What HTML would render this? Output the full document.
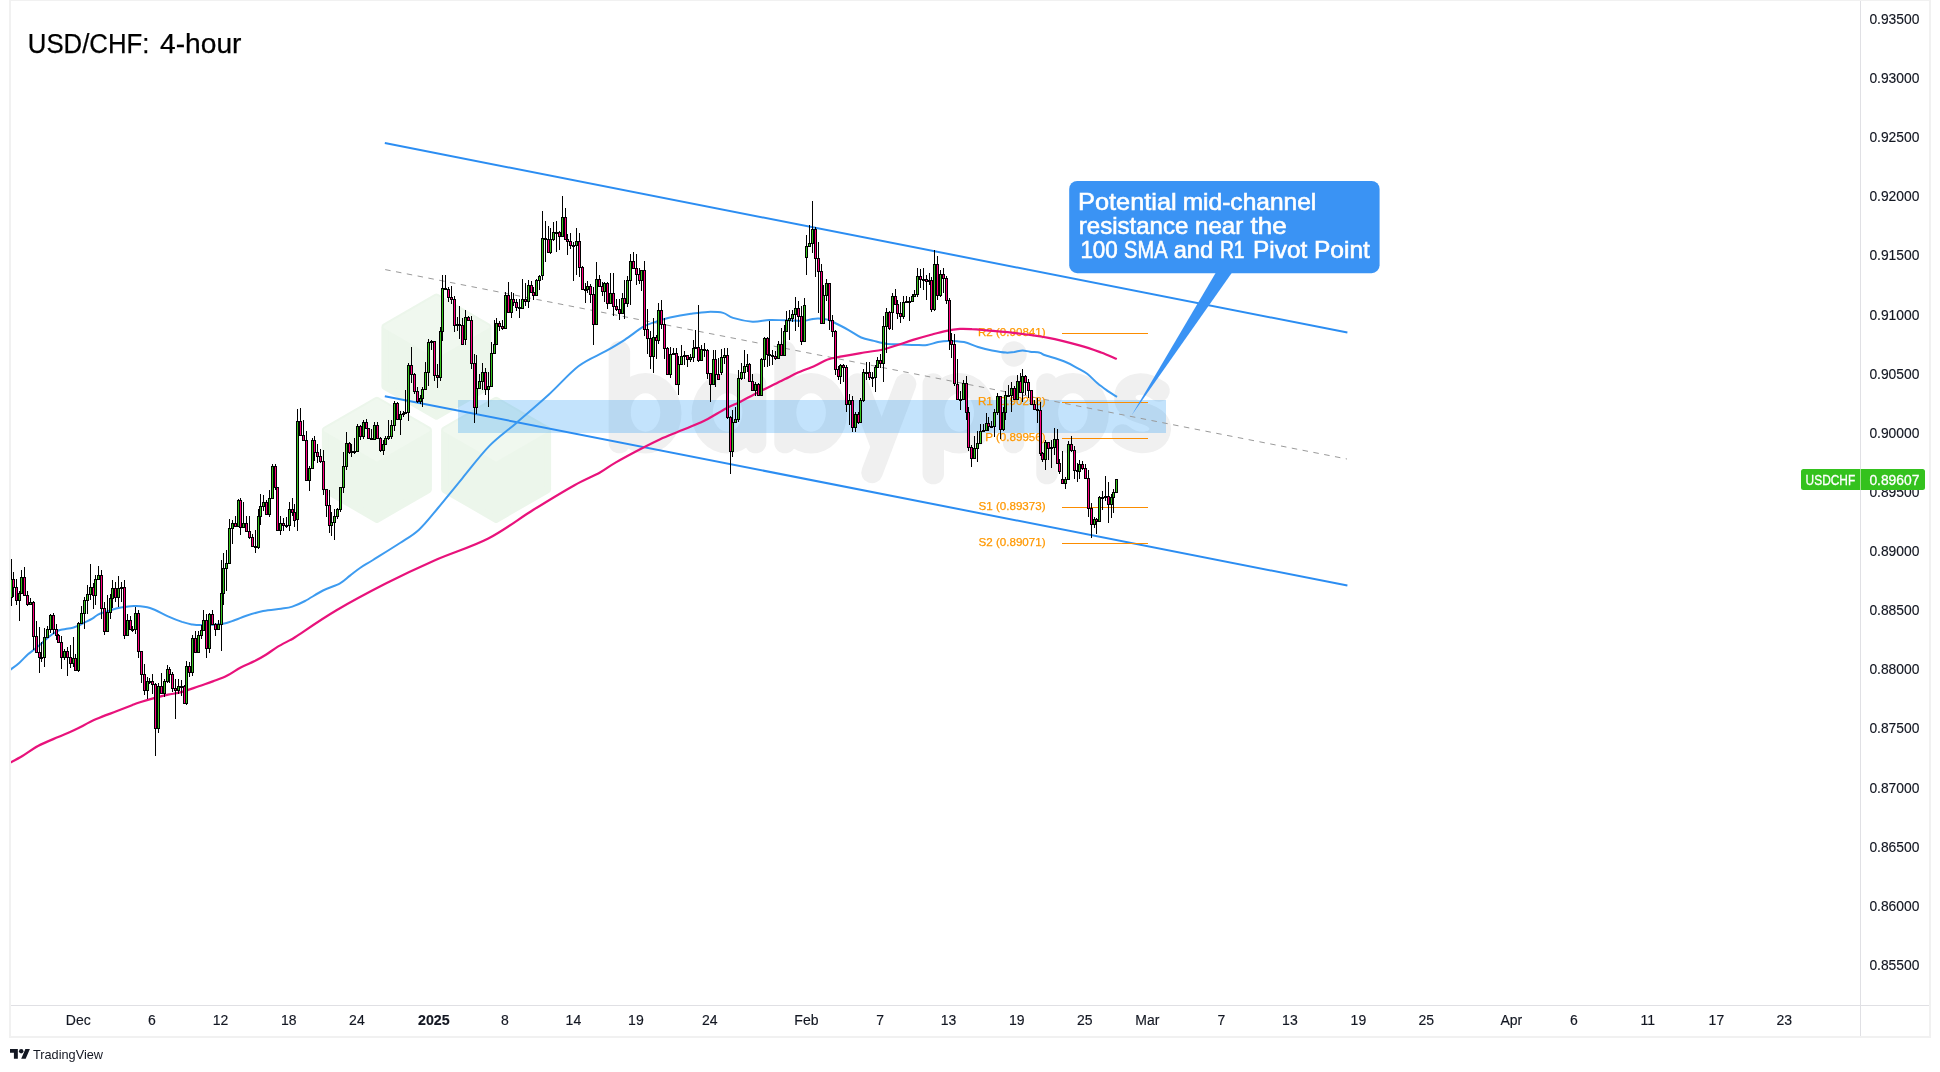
<!DOCTYPE html>
<html><head><meta charset="utf-8"><title>USD/CHF: 4-hour</title>
<style>html,body{margin:0;padding:0;background:#fff;}body{width:1940px;height:1072px;overflow:hidden;position:relative;}svg{position:absolute;left:0;top:0;display:block;will-change:transform;}text{font-family:"Liberation Sans",sans-serif;}</style></head><body>
<svg width="1940" height="1072" viewBox="0 0 1940 1072">
<rect x="0" y="0" width="1940" height="1072" fill="#ffffff"/>
<g shape-rendering="crispEdges">
<rect x="9" y="0" width="1922" height="1" fill="#f1f1f1"/>
<rect x="9" y="0" width="2" height="1038" fill="#f1f1f1"/>
<rect x="1929" y="0" width="2" height="1038" fill="#f1f1f1"/>
<rect x="9" y="1036" width="1922" height="2" fill="#f1f1f1"/>
<rect x="1860" y="1" width="1" height="1035" fill="#e0e0e4"/>
<rect x="11" y="1005" width="1918" height="1" fill="#e0e0e4"/>
</g>
<defs><clipPath id="cp"><rect x="11" y="1" width="1849" height="1004"/></clipPath></defs>
<g clip-path="url(#cp)">
<path d="M436.4,297.1 L487.9,326.9 L487.9,386.4 L436.4,416.1 L384.9,386.4 L384.9,326.9Z" fill="#ecf6eb" stroke="#ecf6eb" stroke-width="7" stroke-linejoin="round"/>
<path d="M436.4,297.1 L487.9,326.9 L436.4,356.6 L384.9,326.9Z" fill="#f0f8ef" stroke="#f0f8ef" stroke-width="3" stroke-linejoin="round"/>
<path d="M376.9,400.4 L428.4,430.1 L428.4,489.6 L376.9,519.4 L325.4,489.6 L325.4,430.1Z" fill="#ecf6eb" stroke="#ecf6eb" stroke-width="7" stroke-linejoin="round"/>
<path d="M376.9,400.4 L428.4,430.1 L376.9,459.9 L325.4,430.1Z" fill="#f0f8ef" stroke="#f0f8ef" stroke-width="3" stroke-linejoin="round"/>
<path d="M496.1,400.4 L547.6,430.1 L547.6,489.6 L496.1,519.4 L444.6,489.6 L444.6,430.1Z" fill="#ecf6eb" stroke="#ecf6eb" stroke-width="7" stroke-linejoin="round"/>
<path d="M496.1,400.4 L547.6,430.1 L496.1,459.9 L444.6,430.1Z" fill="#f0f8ef" stroke="#f0f8ef" stroke-width="3" stroke-linejoin="round"/>
<path fill="#f0f0f0" fill-rule="evenodd" d="M609.5,413.3a36,40.3 0 1,0 72,0a36,40.3 0 1,0 -72,0ZM630.7,412.5a14.8,19.3 0 1,0 29.6,0a14.8,19.3 0 1,0 -29.6,0Z"/><path fill="#f0f0f0" fill-rule="evenodd" d="M691.6,413.3a36,40.3 0 1,0 72,0a36,40.3 0 1,0 -72,0ZM712.8000000000001,412.5a14.8,19.3 0 1,0 29.6,0a14.8,19.3 0 1,0 -29.6,0Z"/><path fill="#f0f0f0" fill-rule="evenodd" d="M775.1,413.3a36,40.3 0 1,0 72,0a36,40.3 0 1,0 -72,0ZM796.3000000000001,412.5a14.8,19.3 0 1,0 29.6,0a14.8,19.3 0 1,0 -29.6,0Z"/><path fill="#f0f0f0" fill-rule="evenodd" d="M923.2,413.3a36,40.3 0 1,0 72,0a36,40.3 0 1,0 -72,0ZM944.4000000000001,412.5a14.8,19.3 0 1,0 29.6,0a14.8,19.3 0 1,0 -29.6,0Z"/><path fill="#f0f0f0" fill-rule="evenodd" d="M1036.9,413.3a36,40.3 0 1,0 72,0a36,40.3 0 1,0 -72,0ZM1058.1000000000001,412.5a14.8,19.3 0 1,0 29.6,0a14.8,19.3 0 1,0 -29.6,0Z"/>
<g fill="none" stroke="#f0f0f0" stroke-width="21.5" stroke-linecap="round" stroke-linejoin="round">
<path d="M619.4,351.8V442.6"/>
<path d="M755.6,384V442.6"/>
<path d="M785,351.8V442.6"/>
<path d="M857.4,384L881.5,446.4"/><path d="M905.6,384L872,472.5"/>
<path d="M933.3,384V473.6"/>
<path d="M1013.6,386V442.6"/>
<path d="M1047,384V473.6"/>
<path d="M1159.1,391Q1149.3,383.9 1140.8,383.9Q1124.9,385 1124.9,398Q1124.9,408 1142,413Q1160.3,418 1160.3,429Q1159.1,442 1142,442.6Q1131,442 1122.5,435"/>
</g>
<circle cx="1014" cy="354" r="12.7" fill="#f0f0f0"/>
<rect x="458" y="400" width="708" height="33" fill="#2196f3" fill-opacity="0.27" shape-rendering="crispEdges"/>
<g stroke="#2b8df2" stroke-width="2" stroke-linecap="butt" fill="none">
<line x1="384.8" y1="143" x2="1347.4" y2="332.5"/>
<line x1="384.8" y1="396.2" x2="1347.4" y2="585.5"/>
</g>
<line x1="385.2" y1="269.6" x2="1347" y2="459" stroke="#9a9a9a" stroke-width="1" stroke-dasharray="5.5 5.5" fill="none"/>
<rect x="1062" y="333.0" width="86" height="1" fill="#fb8c00" shape-rendering="crispEdges"/>
<text x="1045.6" y="336.2" font-size="11.6" fill="#ff9800" stroke="#ff9800" stroke-width="0.25" text-anchor="end">R2 (0.90841)</text>
<rect x="1062" y="402.0" width="86" height="1" fill="#fb8c00" shape-rendering="crispEdges"/>
<text x="1045.6" y="405.2" font-size="11.6" fill="#ff9800" stroke="#ff9800" stroke-width="0.25" text-anchor="end">R1 (0.90258)</text>
<rect x="1062" y="438.0" width="86" height="1" fill="#fb8c00" shape-rendering="crispEdges"/>
<text x="1045.6" y="441.2" font-size="11.6" fill="#ff9800" stroke="#ff9800" stroke-width="0.25" text-anchor="end">P (0.89956)</text>
<rect x="1062" y="507.0" width="86" height="1" fill="#fb8c00" shape-rendering="crispEdges"/>
<text x="1045.6" y="510.2" font-size="11.6" fill="#ff9800" stroke="#ff9800" stroke-width="0.25" text-anchor="end">S1 (0.89373)</text>
<rect x="1062" y="543.0" width="86" height="1" fill="#fb8c00" shape-rendering="crispEdges"/>
<text x="1045.6" y="546.2" font-size="11.6" fill="#ff9800" stroke="#ff9800" stroke-width="0.25" text-anchor="end">S2 (0.89071)</text>
<path d="M10.5,669.6C11.9,668.5 16.0,665.9 18.9,663.3C21.8,660.7 25.6,656.4 28.0,654.2C30.4,652.0 31.3,651.9 33.6,650.0C35.9,648.1 39.4,645.2 42.0,643.0C44.6,640.8 46.7,638.6 49.0,636.7C51.3,634.9 54.1,633.0 56.0,631.9C57.9,630.8 57.4,630.7 60.2,630.0C63.0,629.3 69.8,628.4 72.8,627.7C75.8,627.0 76.5,626.4 78.4,625.6C80.3,624.8 81.7,624.0 84.0,622.8C86.3,621.6 90.0,620.0 92.3,618.6C94.6,617.2 95.7,615.8 98.0,614.6C100.3,613.4 103.3,612.6 106.3,611.6C109.3,610.6 112.8,609.3 116.1,608.5C119.4,607.7 122.8,607.1 126.0,606.7C129.2,606.3 131.0,605.8 135.0,606.0C139.0,606.2 144.5,606.3 150.0,608.0C155.5,609.7 162.7,614.0 168.0,616.3C173.3,618.6 178.0,620.5 182.0,621.9C186.0,623.2 188.5,623.9 191.8,624.4C195.1,624.9 196.6,625.2 201.6,625.1C206.6,625.0 216.3,624.9 221.9,624.0C227.5,623.1 231.0,621.4 235.1,620.0C239.2,618.6 241.6,617.2 246.3,615.7C251.0,614.2 257.3,612.2 263.1,611.0C268.9,609.8 276.1,609.4 281.0,608.7C285.9,608.0 288.3,607.9 292.3,606.6C296.3,605.3 299.9,603.7 305.0,601.0C310.1,598.3 317.2,593.5 323.0,590.5C328.8,587.5 335.5,585.8 340.0,583.3C344.5,580.8 346.7,578.1 350.0,575.6C353.3,573.1 356.2,570.6 360.0,568.0C363.8,565.4 366.3,564.2 373.0,560.0C379.7,555.8 392.3,548.0 400.0,543.0C407.7,538.0 412.7,535.5 419.0,529.7C425.3,523.9 430.8,516.6 438.0,508.0C445.2,499.4 453.7,488.7 462.3,478.3C470.9,467.9 480.4,455.1 489.4,445.9C498.4,436.7 506.5,431.5 516.4,422.9C526.3,414.3 538.5,404.0 548.9,394.5C559.3,385.0 569.2,373.2 578.7,366.0C588.2,358.8 598.0,355.6 605.7,351.2C613.4,346.8 618.4,343.9 624.7,339.8C631.0,335.7 638.3,329.7 643.5,326.7C648.7,323.7 651.6,323.2 656.0,321.7C660.4,320.2 664.2,318.8 670.0,317.5C675.8,316.2 684.7,314.6 691.0,313.7C697.3,312.8 702.4,312.0 707.8,311.9C713.1,311.8 718.9,311.9 723.1,312.9C727.3,313.9 728.1,316.4 733.0,317.9C737.9,319.4 746.5,321.3 752.5,321.7C758.5,322.1 763.9,320.2 769.3,320.0C774.7,319.8 779.4,320.2 785.0,320.3C790.6,320.4 798.6,321.1 803.0,320.9C807.4,320.7 808.8,319.6 811.4,319.2C814.0,318.8 815.7,318.4 818.4,318.5C821.1,318.6 824.7,318.8 827.6,319.6C830.5,320.4 832.5,321.8 836.0,323.5C839.5,325.2 844.4,327.8 848.6,330.1C852.8,332.4 857.0,335.7 861.2,337.5C865.4,339.3 869.4,339.8 873.8,340.9C878.2,342.0 883.1,343.4 887.8,344.0C892.4,344.6 897.1,344.2 901.7,344.4C906.4,344.6 911.5,344.9 915.7,345.0C919.9,345.1 923.3,345.5 927.0,345.0C930.7,344.5 934.6,342.7 938.1,342.0C941.6,341.3 943.7,340.9 948.0,340.9C952.3,340.9 959.0,341.1 964.0,342.1C969.0,343.1 973.3,345.6 978.0,347.0C982.7,348.4 987.3,349.6 992.0,350.5C996.7,351.4 1002.3,352.4 1006.0,352.6C1009.7,352.8 1011.5,352.2 1014.3,351.9C1017.1,351.5 1020.1,350.5 1022.7,350.5C1025.3,350.5 1027.1,351.3 1030.0,351.7C1032.9,352.1 1037.6,352.1 1040.0,352.7C1042.4,353.2 1040.3,353.6 1044.3,355.0C1048.3,356.4 1058.3,359.1 1063.9,361.3C1069.5,363.5 1074.0,366.2 1077.9,368.3C1081.8,370.4 1084.2,371.5 1087.5,374.0C1090.8,376.5 1094.1,380.4 1097.5,383.3C1100.9,386.2 1104.8,388.9 1107.9,391.1C1111.0,393.3 1114.9,395.5 1116.3,396.4" stroke="#3d9bf0" stroke-width="2" fill="none" stroke-linejoin="round" stroke-linecap="round"/>
<path d="M10.0,762.7C12.1,761.6 17.7,758.8 22.4,756.0C27.1,753.2 32.0,749.2 38.0,746.0C44.0,742.8 52.2,739.6 58.2,737.0C64.2,734.4 67.6,733.3 73.9,730.3C80.2,727.3 89.2,722.3 96.3,719.1C103.4,715.9 110.5,713.6 116.4,711.3C122.4,709.0 128.1,706.7 132.0,705.2C135.9,703.7 136.3,703.5 140.0,702.3C143.7,701.1 149.3,699.4 154.0,698.1C158.7,696.8 163.3,695.7 168.0,694.7C172.7,693.7 176.9,693.3 182.0,691.9C187.1,690.5 193.7,688.0 198.8,686.3C203.9,684.5 208.1,683.1 212.8,681.4C217.5,679.6 222.2,678.1 226.8,675.8C231.5,673.5 236.0,670.0 240.7,667.5C245.3,665.0 250.5,663.2 254.7,661.1C258.9,659.0 262.2,657.1 265.9,654.8C269.6,652.5 273.1,649.5 277.1,647.1C281.1,644.7 286.9,641.8 290.0,640.1C293.1,638.4 287.6,642.0 295.4,637.0C303.1,632.0 321.4,619.2 336.5,610.3C351.6,601.4 369.3,592.0 385.7,583.6C402.1,575.2 417.9,567.7 435.0,560.2C452.1,552.7 471.9,546.9 488.3,538.5C504.7,530.1 519.0,518.7 533.4,509.8C547.8,500.9 563.4,491.4 574.5,485.2C585.6,479.0 593.2,476.3 600.0,472.5C606.8,468.7 608.7,466.5 615.5,462.6C622.3,458.7 633.1,452.9 640.6,449.0C648.1,445.1 654.1,442.0 660.2,439.2C666.3,436.4 671.9,434.3 677.0,432.2C682.1,430.1 685.9,428.8 691.0,426.6C696.1,424.4 702.0,421.9 707.8,418.9C713.6,415.9 720.6,411.2 726.0,408.4C731.4,405.6 735.3,404.2 740.0,401.9C744.7,399.6 749.3,396.8 754.0,394.4C758.7,392.0 762.8,389.9 768.0,387.4C773.2,384.8 780.0,381.6 785.0,379.1C790.0,376.6 793.0,374.8 798.0,372.6C803.0,370.4 810.1,368.0 815.0,365.8C819.9,363.6 823.4,361.0 827.6,359.5C831.8,358.0 834.1,357.9 840.2,356.7C846.3,355.5 857.0,353.7 864.0,352.5C871.0,351.3 876.8,350.9 882.2,349.7C887.6,348.5 891.1,347.1 896.2,345.5C901.3,343.9 907.2,341.7 913.0,339.9C918.8,338.1 925.5,336.2 931.1,334.7C936.7,333.2 941.7,331.8 946.5,330.8C951.3,329.8 955.8,329.2 960.0,328.9C964.2,328.6 967.6,328.9 972.0,329.2C976.4,329.4 979.0,329.7 986.6,330.4C994.2,331.1 1007.3,332.1 1017.6,333.4C1027.9,334.6 1038.2,335.9 1048.5,337.9C1058.8,339.9 1070.6,343.0 1079.4,345.4C1088.2,347.8 1095.0,350.3 1101.1,352.5C1107.2,354.7 1113.5,357.7 1116.0,358.7" stroke="#e8127b" stroke-width="2.2" fill="none" stroke-linejoin="round" stroke-linecap="round"/>
<g shape-rendering="crispEdges">
<path d="M11,559h1v47h-1zM13,572h1v25h-1zM16,579h1v26h-1zM19,591h1v30h-1zM21,570h1v24h-1zM24,567h1v28h-1zM27,591h1v15h-1zM30,598h1v7h-1zM33,601h1v49h-1zM36,621h1v31h-1zM39,627h1v46h-1zM41,642h1v20h-1zM44,628h1v39h-1zM47,626h1v11h-1zM50,614h1v19h-1zM53,613h1v21h-1zM56,624h1v16h-1zM58,634h1v8h-1zM61,636h1v33h-1zM64,649h1v11h-1zM67,647h1v29h-1zM70,645h1v23h-1zM73,637h1v30h-1zM75,654h1v17h-1zM78,622h1v50h-1zM81,606h1v17h-1zM84,597h1v32h-1zM87,585h1v29h-1zM90,564h1v36h-1zM93,583h1v26h-1zM95,575h1v30h-1zM98,566h1v13h-1zM101,570h1v49h-1zM104,602h1v33h-1zM107,595h1v37h-1zM110,594h1v25h-1zM112,580h1v28h-1zM115,582h1v20h-1zM118,576h1v31h-1zM121,582h1v20h-1zM124,580h1v59h-1zM127,614h1v21h-1zM130,616h1v14h-1zM132,626h1v6h-1zM135,607h1v27h-1zM138,610h1v48h-1zM141,651h1v32h-1zM144,664h1v31h-1zM147,677h1v22h-1zM149,678h1v6h-1zM152,674h1v20h-1zM155,683h1v73h-1zM158,683h1v50h-1zM161,673h1v21h-1zM164,679h1v18h-1zM167,665h1v18h-1zM169,667h1v16h-1zM172,672h1v20h-1zM175,679h1v40h-1zM178,679h1v15h-1zM181,680h1v16h-1zM184,685h1v18h-1zM186,661h1v44h-1zM189,662h1v15h-1zM192,635h1v41h-1zM195,631h1v21h-1zM198,631h1v21h-1zM201,625h1v14h-1zM203,610h1v21h-1zM206,614h1v44h-1zM209,613h1v40h-1zM212,610h1v15h-1zM215,623h1v13h-1zM218,620h1v10h-1zM221,560h1v91h-1zM223,553h1v52h-1zM226,550h1v41h-1zM229,519h1v44h-1zM232,520h1v24h-1zM235,516h1v10h-1zM238,499h1v27h-1zM240,498h1v37h-1zM243,502h1v25h-1zM246,516h1v15h-1zM249,516h1v23h-1zM252,534h1v12h-1zM255,530h1v23h-1zM258,509h1v40h-1zM260,494h1v31h-1zM263,495h1v16h-1zM266,500h1v14h-1zM269,490h1v27h-1zM272,464h1v34h-1zM275,464h1v26h-1zM277,487h1v43h-1zM280,516h1v19h-1zM283,518h1v13h-1zM286,517h1v11h-1zM289,502h1v29h-1zM292,498h1v18h-1zM294,504h1v23h-1zM297,409h1v122h-1zM300,408h1v28h-1zM303,420h1v20h-1zM306,431h1v50h-1zM309,466h1v25h-1zM312,438h1v30h-1zM314,436h1v25h-1zM317,444h1v19h-1zM320,449h1v14h-1zM323,450h1v45h-1zM326,489h1v28h-1zM329,490h1v43h-1zM331,512h1v24h-1zM334,509h1v31h-1zM337,508h1v11h-1zM340,487h1v25h-1zM343,452h1v41h-1zM346,432h1v38h-1zM349,442h1v12h-1zM351,444h1v13h-1zM354,438h1v16h-1zM357,424h1v28h-1zM360,425h1v15h-1zM363,420h1v19h-1zM366,419h1v10h-1zM368,428h1v11h-1zM371,429h1v11h-1zM374,422h1v18h-1zM377,422h1v16h-1zM380,437h1v15h-1zM383,440h1v15h-1zM385,436h1v9h-1zM388,420h1v20h-1zM391,420h1v19h-1zM394,401h1v30h-1zM397,402h1v18h-1zM400,411h1v24h-1zM403,411h1v6h-1zM405,390h1v24h-1zM408,363h1v58h-1zM411,347h1v36h-1zM414,373h1v21h-1zM417,387h1v16h-1zM420,395h1v9h-1zM422,387h1v20h-1zM425,362h1v28h-1zM428,339h1v47h-1zM431,340h1v10h-1zM434,341h1v40h-1zM437,364h1v24h-1zM440,327h1v54h-1zM442,275h1v66h-1zM445,275h1v15h-1zM448,287h1v15h-1zM451,286h1v18h-1zM454,296h1v36h-1zM457,317h1v14h-1zM459,306h1v33h-1zM462,318h1v27h-1zM465,310h1v35h-1zM468,316h1v5h-1zM471,316h1v53h-1zM474,354h1v69h-1zM476,355h1v59h-1zM479,374h1v14h-1zM482,363h1v27h-1zM485,368h1v27h-1zM488,372h1v35h-1zM491,342h1v45h-1zM494,320h1v33h-1zM496,318h1v27h-1zM499,321h1v10h-1zM502,320h1v10h-1zM505,292h1v37h-1zM508,282h1v31h-1zM511,292h1v26h-1zM513,293h1v13h-1zM516,299h1v12h-1zM519,299h1v19h-1zM522,279h1v30h-1zM525,283h1v23h-1zM528,280h1v28h-1zM531,281h1v12h-1zM533,287h1v13h-1zM536,279h1v17h-1zM539,275h1v15h-1zM542,211h1v69h-1zM545,221h1v41h-1zM548,226h1v26h-1zM550,228h1v26h-1zM553,222h1v19h-1zM556,221h1v31h-1zM559,231h1v19h-1zM562,196h1v41h-1zM565,208h1v32h-1zM567,234h1v21h-1zM570,233h1v16h-1zM573,242h1v39h-1zM576,228h1v47h-1zM579,233h1v44h-1zM582,266h1v24h-1zM585,283h1v20h-1zM587,281h1v12h-1zM590,284h1v19h-1zM593,287h1v58h-1zM596,262h1v63h-1zM599,275h1v12h-1zM602,282h1v14h-1zM604,282h1v20h-1zM607,282h1v27h-1zM610,273h1v30h-1zM613,273h1v43h-1zM616,299h1v12h-1zM619,299h1v21h-1zM622,293h1v21h-1zM624,280h1v39h-1zM627,276h1v31h-1zM630,254h1v51h-1zM633,252h1v17h-1zM636,254h1v31h-1zM639,268h1v16h-1zM641,270h1v21h-1zM644,261h1v75h-1zM647,309h1v45h-1zM650,331h1v38h-1zM653,318h1v55h-1zM656,335h1v24h-1zM658,303h1v41h-1zM661,300h1v29h-1zM664,318h1v41h-1zM667,347h1v28h-1zM670,347h1v31h-1zM673,348h1v7h-1zM676,348h1v36h-1zM678,356h1v39h-1zM681,345h1v20h-1zM684,351h1v14h-1zM687,355h1v12h-1zM690,354h1v8h-1zM693,340h1v22h-1zM695,330h1v19h-1zM698,305h1v57h-1zM701,345h1v16h-1zM704,343h1v14h-1zM707,349h1v30h-1zM710,373h1v29h-1zM713,350h1v35h-1zM715,350h1v37h-1zM718,358h1v22h-1zM721,349h1v26h-1zM724,348h1v16h-1zM727,348h1v71h-1zM730,416h1v58h-1zM732,410h1v47h-1zM735,407h1v15h-1zM738,370h1v52h-1zM741,363h1v17h-1zM744,350h1v29h-1zM747,354h1v18h-1zM749,363h1v19h-1zM752,374h1v17h-1zM755,382h1v14h-1zM758,383h1v12h-1zM761,358h1v37h-1zM764,337h1v30h-1zM767,337h1v30h-1zM769,321h1v45h-1zM772,350h1v15h-1zM775,351h1v9h-1zM778,341h1v18h-1zM781,328h1v28h-1zM784,325h1v31h-1zM786,311h1v20h-1zM789,310h1v30h-1zM792,310h1v12h-1zM795,297h1v34h-1zM798,301h1v26h-1zM801,306h1v39h-1zM804,298h1v44h-1zM806,235h1v40h-1zM809,225h1v22h-1zM812,201h1v52h-1zM815,227h1v50h-1zM818,242h1v71h-1zM821,264h1v59h-1zM823,285h1v38h-1zM826,279h1v22h-1zM829,283h1v47h-1zM832,315h1v22h-1zM835,330h1v45h-1zM838,366h1v14h-1zM840,364h1v20h-1zM843,364h1v18h-1zM846,365h1v47h-1zM849,394h1v31h-1zM852,396h1v36h-1zM855,412h1v20h-1zM858,412h1v12h-1zM860,398h1v25h-1zM863,369h1v33h-1zM866,362h1v18h-1zM869,362h1v18h-1zM872,372h1v15h-1zM875,365h1v27h-1zM877,357h1v11h-1zM880,354h1v14h-1zM883,316h1v66h-1zM886,308h1v45h-1zM889,311h1v19h-1zM892,293h1v37h-1zM895,289h1v15h-1zM897,300h1v19h-1zM900,302h1v21h-1zM903,296h1v23h-1zM906,296h1v6h-1zM909,297h1v24h-1zM912,294h1v8h-1zM914,290h1v7h-1zM917,268h1v29h-1zM920,269h1v19h-1zM923,268h1v22h-1zM926,275h1v25h-1zM929,273h1v12h-1zM931,277h1v35h-1zM934,250h1v61h-1zM937,256h1v44h-1zM940,270h1v27h-1zM943,268h1v25h-1zM946,276h1v28h-1zM949,298h1v52h-1zM951,333h1v25h-1zM954,334h1v52h-1zM957,359h1v41h-1zM960,391h1v19h-1zM963,380h1v19h-1zM966,376h1v44h-1zM968,407h1v44h-1zM971,445h1v22h-1zM974,436h1v23h-1zM977,431h1v31h-1zM980,424h1v20h-1zM983,424h1v7h-1zM986,413h1v18h-1zM988,417h1v14h-1zM991,421h1v6h-1zM994,409h1v28h-1zM997,393h1v22h-1zM1000,396h1v43h-1zM1003,407h1v24h-1zM1005,391h1v29h-1zM1008,385h1v11h-1zM1011,382h1v30h-1zM1014,386h1v13h-1zM1017,375h1v25h-1zM1020,373h1v20h-1zM1022,369h1v33h-1zM1025,375h1v20h-1zM1028,379h1v19h-1zM1031,390h1v15h-1zM1034,400h1v10h-1zM1037,398h1v25h-1zM1040,402h1v54h-1zM1042,452h1v10h-1zM1045,440h1v30h-1zM1048,442h1v18h-1zM1051,440h1v28h-1zM1054,428h1v27h-1zM1057,429h1v35h-1zM1059,459h1v15h-1zM1062,451h1v33h-1zM1065,477h1v12h-1zM1068,441h1v39h-1zM1071,436h1v16h-1zM1074,446h1v33h-1zM1077,463h1v19h-1zM1079,460h1v19h-1zM1082,461h1v9h-1zM1085,464h1v15h-1zM1088,470h1v47h-1zM1091,503h1v35h-1zM1094,517h1v11h-1zM1096,518h1v16h-1zM1099,496h1v26h-1zM1102,491h1v19h-1zM1105,476h1v25h-1zM1108,482h1v41h-1zM1111,494h1v24h-1zM1113,489h1v24h-1zM1116,479h1v14h-1z" fill="#000"/>
<path d="M10,579h3v19h-3zM12,579h3v9h-3zM15,587h3v14h-3zM18,593h3v8h-3zM20,577h3v17h-3zM23,577h3v19h-3zM26,595h3v10h-3zM29,602h3v3h-3zM32,602h3v35h-3zM35,636h3v17h-3zM38,652h3v6h-3zM40,657h3v2h-3zM43,637h3v21h-3zM46,629h3v9h-3zM49,615h3v15h-3zM52,615h3v15h-3zM55,629h3v7h-3zM57,635h3v8h-3zM60,642h3v16h-3zM63,651h3v7h-3zM66,651h3v7h-3zM69,657h3v7h-3zM72,658h3v6h-3zM74,658h3v13h-3zM77,623h3v48h-3zM80,613h3v11h-3zM83,600h3v14h-3zM86,594h3v7h-3zM89,587h3v8h-3zM92,587h3v9h-3zM94,579h3v17h-3zM97,575h3v5h-3zM100,575h3v34h-3zM103,608h3v24h-3zM106,612h3v20h-3zM109,598h3v15h-3zM111,588h3v11h-3zM114,588h3v10h-3zM117,588h3v10h-3zM120,587h3v2h-3zM123,587h3v49h-3zM126,620h3v16h-3zM129,620h3v10h-3zM131,629h3v2h-3zM134,613h3v17h-3zM137,613h3v39h-3zM140,651h3v24h-3zM143,674h3v17h-3zM146,681h3v10h-3zM148,681h3v2h-3zM151,681h3v4h-3zM154,684h3v45h-3zM157,686h3v43h-3zM160,686h3v8h-3zM163,681h3v13h-3zM166,669h3v13h-3zM168,669h3v6h-3zM171,674h3v15h-3zM174,688h3v3h-3zM177,686h3v5h-3zM180,686h3v2h-3zM183,686h3v18h-3zM185,666h3v38h-3zM188,666h3v7h-3zM191,638h3v35h-3zM194,638h3v15h-3zM197,635h3v18h-3zM200,630h3v6h-3zM202,620h3v11h-3zM205,620h3v29h-3zM208,614h3v35h-3zM211,614h3v11h-3zM214,624h3v6h-3zM217,624h3v6h-3zM220,593h3v32h-3zM222,568h3v26h-3zM225,563h3v6h-3zM228,528h3v36h-3zM231,523h3v6h-3zM234,523h3v4h-3zM237,500h3v27h-3zM239,500h3v28h-3zM242,523h3v5h-3zM245,523h3v9h-3zM248,531h3v7h-3zM251,537h3v10h-3zM254,546h3v2h-3zM257,516h3v32h-3zM259,506h3v11h-3zM262,502h3v5h-3zM265,502h3v13h-3zM268,498h3v17h-3zM271,466h3v33h-3zM274,466h3v22h-3zM276,487h3v44h-3zM279,523h3v8h-3zM282,523h3v3h-3zM285,525h3v2h-3zM288,509h3v17h-3zM291,509h3v4h-3zM293,512h3v9h-3zM296,421h3v99h-3zM299,421h3v15h-3zM302,435h3v6h-3zM305,440h3v41h-3zM308,468h3v13h-3zM311,440h3v29h-3zM313,440h3v13h-3zM316,452h3v5h-3zM319,456h3v6h-3zM322,461h3v29h-3zM325,489h3v17h-3zM328,505h3v21h-3zM330,522h3v4h-3zM333,516h3v7h-3zM336,509h3v8h-3zM339,487h3v23h-3zM342,466h3v22h-3zM345,443h3v24h-3zM348,443h3v10h-3zM350,451h3v2h-3zM353,451h3v2h-3zM356,426h3v26h-3zM359,426h3v11h-3zM362,422h3v15h-3zM365,422h3v7h-3zM367,428h3v11h-3zM370,438h3v2h-3zM373,425h3v15h-3zM376,425h3v14h-3zM379,438h3v13h-3zM382,444h3v7h-3zM384,438h3v7h-3zM387,436h3v3h-3zM390,425h3v12h-3zM393,403h3v23h-3zM396,403h3v17h-3zM399,414h3v6h-3zM402,413h3v2h-3zM404,412h3v2h-3zM407,365h3v48h-3zM410,365h3v10h-3zM413,374h3v18h-3zM416,391h3v11h-3zM419,398h3v4h-3zM421,389h3v10h-3zM424,372h3v18h-3zM427,342h3v31h-3zM430,341h3v2h-3zM433,341h3v35h-3zM436,375h3v3h-3zM439,331h3v47h-3zM441,288h3v44h-3zM444,288h3v2h-3zM447,289h3v9h-3zM450,297h3v3h-3zM453,299h3v27h-3zM456,324h3v2h-3zM458,324h3v2h-3zM461,325h3v20h-3zM464,317h3v23h-3zM467,317h3v4h-3zM470,320h3v44h-3zM473,363h3v45h-3zM475,388h3v20h-3zM478,381h3v8h-3zM481,372h3v10h-3zM484,372h3v18h-3zM487,386h3v4h-3zM490,353h3v34h-3zM493,344h3v10h-3zM495,323h3v22h-3zM498,323h3v4h-3zM501,326h3v3h-3zM504,295h3v34h-3zM507,295h3v18h-3zM510,299h3v14h-3zM512,299h3v4h-3zM515,302h3v6h-3zM518,307h3v2h-3zM521,299h3v10h-3zM524,299h3v3h-3zM527,285h3v17h-3zM530,285h3v8h-3zM532,292h3v4h-3zM535,280h3v16h-3zM538,276h3v5h-3zM541,238h3v38h-3zM544,238h3v2h-3zM547,239h3v14h-3zM549,239h3v14h-3zM552,232h3v8h-3zM555,232h3v2h-3zM558,232h3v5h-3zM561,217h3v20h-3zM564,217h3v23h-3zM566,239h3v3h-3zM569,241h3v5h-3zM572,245h3v2h-3zM575,241h3v5h-3zM578,241h3v27h-3zM581,267h3v23h-3zM584,289h3v2h-3zM586,286h3v4h-3zM589,286h3v9h-3zM592,294h3v31h-3zM595,279h3v46h-3zM598,279h3v8h-3zM601,286h3v6h-3zM603,283h3v9h-3zM606,283h3v21h-3zM609,293h3v11h-3zM612,293h3v14h-3zM615,306h3v4h-3zM618,309h3v5h-3zM621,298h3v16h-3zM623,298h3v6h-3zM626,280h3v24h-3zM629,261h3v20h-3zM632,261h3v8h-3zM635,268h3v7h-3zM638,274h3v7h-3zM640,270h3v11h-3zM643,270h3v60h-3zM646,329h3v10h-3zM649,338h3v19h-3zM652,337h3v20h-3zM655,337h3v4h-3zM657,310h3v31h-3zM660,310h3v15h-3zM663,324h3v25h-3zM666,348h3v27h-3zM669,354h3v21h-3zM672,353h3v2h-3zM675,353h3v32h-3zM677,364h3v21h-3zM680,356h3v9h-3zM683,355h3v2h-3zM686,355h3v5h-3zM689,357h3v3h-3zM692,348h3v10h-3zM694,347h3v2h-3zM697,347h3v14h-3zM700,349h3v12h-3zM703,349h3v2h-3zM706,350h3v24h-3zM709,373h3v12h-3zM712,359h3v26h-3zM714,359h3v16h-3zM717,374h3v6h-3zM720,357h3v16h-3zM723,355h3v3h-3zM726,355h3v63h-3zM729,417h3v35h-3zM731,422h3v30h-3zM734,419h3v4h-3zM737,378h3v42h-3zM740,372h3v7h-3zM743,366h3v7h-3zM746,364h3v3h-3zM748,364h3v18h-3zM751,381h3v10h-3zM754,384h3v7h-3zM757,384h3v12h-3zM760,359h3v37h-3zM763,338h3v22h-3zM766,338h3v17h-3zM768,354h3v2h-3zM771,355h3v2h-3zM774,356h3v3h-3zM777,344h3v15h-3zM780,344h3v12h-3zM783,331h3v25h-3zM785,320h3v12h-3zM788,318h3v3h-3zM791,314h3v5h-3zM794,308h3v7h-3zM797,308h3v9h-3zM800,316h3v26h-3zM803,305h3v37h-3zM805,246h3v12h-3zM808,243h3v4h-3zM811,229h3v15h-3zM814,229h3v30h-3zM817,258h3v14h-3zM820,271h3v53h-3zM822,295h3v29h-3zM825,283h3v13h-3zM828,283h3v38h-3zM831,320h3v12h-3zM834,331h3v39h-3zM837,369h3v8h-3zM839,365h3v12h-3zM842,365h3v3h-3zM845,367h3v38h-3zM848,400h3v5h-3zM851,400h3v28h-3zM854,414h3v14h-3zM857,414h3v9h-3zM859,400h3v23h-3zM862,372h3v29h-3zM865,372h3v2h-3zM868,372h3v6h-3zM871,377h3v2h-3zM874,367h3v11h-3zM876,360h3v8h-3zM879,360h3v4h-3zM882,326h3v38h-3zM885,312h3v15h-3zM888,312h3v17h-3zM891,296h3v17h-3zM894,296h3v9h-3zM896,304h3v10h-3zM899,313h3v4h-3zM902,302h3v15h-3zM905,301h3v2h-3zM908,301h3v2h-3zM911,296h3v6h-3zM913,294h3v3h-3zM916,276h3v19h-3zM919,276h3v4h-3zM922,279h3v2h-3zM925,279h3v3h-3zM928,280h3v2h-3zM930,280h3v30h-3zM933,264h3v46h-3zM936,264h3v32h-3zM939,274h3v22h-3zM942,274h3v5h-3zM945,278h3v23h-3zM948,300h3v41h-3zM950,340h3v5h-3zM953,344h3v40h-3zM956,384h3v16h-3zM959,399h3v2h-3zM962,383h3v17h-3zM965,383h3v30h-3zM967,412h3v36h-3zM970,447h3v12h-3zM973,448h3v11h-3zM976,443h3v6h-3zM979,431h3v13h-3zM982,430h3v2h-3zM985,423h3v8h-3zM987,423h3v4h-3zM990,426h3v2h-3zM993,412h3v15h-3zM996,396h3v17h-3zM999,396h3v34h-3zM1002,412h3v18h-3zM1004,395h3v18h-3zM1007,395h3v2h-3zM1010,388h3v8h-3zM1013,388h3v12h-3zM1016,381h3v19h-3zM1019,381h3v12h-3zM1021,376h3v17h-3zM1024,376h3v7h-3zM1027,382h3v9h-3zM1030,390h3v15h-3zM1033,404h3v6h-3zM1036,409h3v2h-3zM1039,410h3v44h-3zM1041,453h3v7h-3zM1044,442h3v18h-3zM1047,442h3v7h-3zM1050,447h3v2h-3zM1053,439h3v9h-3zM1056,439h3v25h-3zM1058,463h3v9h-3zM1061,479h3v5h-3zM1064,479h3v5h-3zM1067,444h3v36h-3zM1070,444h3v7h-3zM1073,450h3v21h-3zM1076,470h3v2h-3zM1078,464h3v8h-3zM1081,464h3v5h-3zM1084,468h3v11h-3zM1087,478h3v31h-3zM1090,508h3v17h-3zM1093,519h3v6h-3zM1095,519h3v3h-3zM1098,497h3v25h-3zM1101,497h3v2h-3zM1104,496h3v2h-3zM1107,496h3v9h-3zM1110,497h3v8h-3zM1112,492h3v6h-3zM1115,479h3v14h-3z" fill="#000"/>
<path d="M11,580h1v17h-1zM19,594h1v6h-1zM21,578h1v15h-1zM30,603h1v1h-1zM44,638h1v19h-1zM47,630h1v7h-1zM50,616h1v13h-1zM64,652h1v5h-1zM73,659h1v4h-1zM78,624h1v46h-1zM81,614h1v9h-1zM84,601h1v12h-1zM87,595h1v5h-1zM90,588h1v6h-1zM95,580h1v15h-1zM98,576h1v3h-1zM107,613h1v18h-1zM110,599h1v13h-1zM112,589h1v9h-1zM118,589h1v8h-1zM127,621h1v14h-1zM135,614h1v15h-1zM147,682h1v8h-1zM158,687h1v41h-1zM164,682h1v11h-1zM167,670h1v11h-1zM178,687h1v3h-1zM186,667h1v36h-1zM192,639h1v33h-1zM198,636h1v16h-1zM201,631h1v4h-1zM203,621h1v9h-1zM209,615h1v33h-1zM218,625h1v4h-1zM221,594h1v30h-1zM223,569h1v24h-1zM226,564h1v4h-1zM229,529h1v34h-1zM232,524h1v4h-1zM238,501h1v25h-1zM243,524h1v3h-1zM258,517h1v30h-1zM260,507h1v9h-1zM263,503h1v3h-1zM269,499h1v15h-1zM272,467h1v31h-1zM280,524h1v6h-1zM289,510h1v15h-1zM297,422h1v97h-1zM309,469h1v11h-1zM312,441h1v27h-1zM331,523h1v2h-1zM334,517h1v5h-1zM337,510h1v6h-1zM340,488h1v21h-1zM343,467h1v20h-1zM346,444h1v22h-1zM357,427h1v24h-1zM363,423h1v13h-1zM374,426h1v13h-1zM383,445h1v5h-1zM385,439h1v5h-1zM388,437h1v1h-1zM391,426h1v10h-1zM394,404h1v21h-1zM400,415h1v4h-1zM408,366h1v46h-1zM420,399h1v2h-1zM422,390h1v8h-1zM425,373h1v16h-1zM428,343h1v29h-1zM440,332h1v45h-1zM442,289h1v42h-1zM465,318h1v21h-1zM476,389h1v18h-1zM479,382h1v6h-1zM482,373h1v8h-1zM488,387h1v2h-1zM491,354h1v32h-1zM494,345h1v8h-1zM496,324h1v20h-1zM505,296h1v32h-1zM511,300h1v12h-1zM522,300h1v8h-1zM528,286h1v15h-1zM536,281h1v14h-1zM539,277h1v3h-1zM542,239h1v36h-1zM550,240h1v12h-1zM553,233h1v6h-1zM562,218h1v18h-1zM576,242h1v3h-1zM587,287h1v2h-1zM596,280h1v44h-1zM604,284h1v7h-1zM610,294h1v9h-1zM622,299h1v14h-1zM627,281h1v22h-1zM630,262h1v18h-1zM641,271h1v9h-1zM653,338h1v18h-1zM658,311h1v29h-1zM670,355h1v19h-1zM678,365h1v19h-1zM681,357h1v7h-1zM690,358h1v1h-1zM693,349h1v8h-1zM701,350h1v10h-1zM713,360h1v24h-1zM721,358h1v14h-1zM724,356h1v1h-1zM732,423h1v28h-1zM735,420h1v2h-1zM738,379h1v40h-1zM741,373h1v5h-1zM744,367h1v5h-1zM747,365h1v1h-1zM755,385h1v5h-1zM761,360h1v35h-1zM764,339h1v20h-1zM778,345h1v13h-1zM784,332h1v23h-1zM786,321h1v10h-1zM789,319h1v1h-1zM792,315h1v3h-1zM795,309h1v5h-1zM804,306h1v35h-1zM806,247h1v10h-1zM809,244h1v2h-1zM812,230h1v13h-1zM823,296h1v27h-1zM826,284h1v11h-1zM840,366h1v10h-1zM849,401h1v3h-1zM855,415h1v12h-1zM860,401h1v21h-1zM863,373h1v27h-1zM875,368h1v9h-1zM877,361h1v6h-1zM883,327h1v36h-1zM886,313h1v13h-1zM892,297h1v15h-1zM903,303h1v13h-1zM912,297h1v4h-1zM914,295h1v1h-1zM917,277h1v17h-1zM934,265h1v44h-1zM940,275h1v20h-1zM963,384h1v15h-1zM974,449h1v9h-1zM977,444h1v4h-1zM980,432h1v11h-1zM986,424h1v6h-1zM994,413h1v13h-1zM997,397h1v15h-1zM1003,413h1v16h-1zM1005,396h1v16h-1zM1011,389h1v6h-1zM1017,382h1v17h-1zM1022,377h1v15h-1zM1045,443h1v16h-1zM1054,440h1v7h-1zM1065,480h1v3h-1zM1068,445h1v34h-1zM1079,465h1v6h-1zM1094,520h1v4h-1zM1099,498h1v23h-1zM1111,498h1v6h-1zM1113,493h1v4h-1zM1116,480h1v12h-1z" fill="#36c41e"/>
<path d="M13,580h1v7h-1zM16,588h1v12h-1zM24,578h1v17h-1zM27,596h1v8h-1zM33,603h1v33h-1zM36,637h1v15h-1zM39,653h1v4h-1zM53,616h1v13h-1zM56,630h1v5h-1zM58,636h1v6h-1zM61,643h1v14h-1zM67,652h1v5h-1zM70,658h1v5h-1zM75,659h1v11h-1zM93,588h1v7h-1zM101,576h1v32h-1zM104,609h1v22h-1zM115,589h1v8h-1zM124,588h1v47h-1zM130,621h1v8h-1zM138,614h1v37h-1zM141,652h1v22h-1zM144,675h1v15h-1zM152,682h1v2h-1zM155,685h1v43h-1zM161,687h1v6h-1zM169,670h1v4h-1zM172,675h1v13h-1zM175,689h1v1h-1zM184,687h1v16h-1zM189,667h1v5h-1zM195,639h1v13h-1zM206,621h1v27h-1zM212,615h1v9h-1zM215,625h1v4h-1zM235,524h1v2h-1zM240,501h1v26h-1zM246,524h1v7h-1zM249,532h1v5h-1zM252,538h1v8h-1zM266,503h1v11h-1zM275,467h1v20h-1zM277,488h1v42h-1zM283,524h1v1h-1zM292,510h1v2h-1zM294,513h1v7h-1zM300,422h1v13h-1zM303,436h1v4h-1zM306,441h1v39h-1zM314,441h1v11h-1zM317,453h1v3h-1zM320,457h1v4h-1zM323,462h1v27h-1zM326,490h1v15h-1zM329,506h1v19h-1zM349,444h1v8h-1zM360,427h1v9h-1zM366,423h1v5h-1zM368,429h1v9h-1zM377,426h1v12h-1zM380,439h1v11h-1zM397,404h1v15h-1zM411,366h1v8h-1zM414,375h1v16h-1zM417,392h1v9h-1zM434,342h1v33h-1zM437,376h1v1h-1zM448,290h1v7h-1zM451,298h1v1h-1zM454,300h1v25h-1zM462,326h1v18h-1zM468,318h1v2h-1zM471,321h1v42h-1zM474,364h1v43h-1zM485,373h1v16h-1zM499,324h1v2h-1zM502,327h1v1h-1zM508,296h1v16h-1zM513,300h1v2h-1zM516,303h1v4h-1zM525,300h1v1h-1zM531,286h1v6h-1zM533,293h1v2h-1zM548,240h1v12h-1zM559,233h1v3h-1zM565,218h1v21h-1zM567,240h1v1h-1zM570,242h1v3h-1zM579,242h1v25h-1zM582,268h1v21h-1zM590,287h1v7h-1zM593,295h1v29h-1zM599,280h1v6h-1zM602,287h1v4h-1zM607,284h1v19h-1zM613,294h1v12h-1zM616,307h1v2h-1zM619,310h1v3h-1zM624,299h1v4h-1zM633,262h1v6h-1zM636,269h1v5h-1zM639,275h1v5h-1zM644,271h1v58h-1zM647,330h1v8h-1zM650,339h1v17h-1zM656,338h1v2h-1zM661,311h1v13h-1zM664,325h1v23h-1zM667,349h1v25h-1zM676,354h1v30h-1zM687,356h1v3h-1zM698,348h1v12h-1zM707,351h1v22h-1zM710,374h1v10h-1zM715,360h1v14h-1zM718,375h1v4h-1zM727,356h1v61h-1zM730,418h1v33h-1zM749,365h1v16h-1zM752,382h1v8h-1zM758,385h1v10h-1zM767,339h1v15h-1zM775,357h1v1h-1zM781,345h1v10h-1zM798,309h1v7h-1zM801,317h1v24h-1zM815,230h1v28h-1zM818,259h1v12h-1zM821,272h1v51h-1zM829,284h1v36h-1zM832,321h1v10h-1zM835,332h1v37h-1zM838,370h1v6h-1zM843,366h1v1h-1zM846,368h1v36h-1zM852,401h1v26h-1zM858,415h1v7h-1zM869,373h1v4h-1zM880,361h1v2h-1zM889,313h1v15h-1zM895,297h1v7h-1zM897,305h1v8h-1zM900,314h1v2h-1zM920,277h1v2h-1zM926,280h1v1h-1zM931,281h1v28h-1zM937,265h1v30h-1zM943,275h1v3h-1zM946,279h1v21h-1zM949,301h1v39h-1zM951,341h1v3h-1zM954,345h1v38h-1zM957,385h1v14h-1zM966,384h1v28h-1zM968,413h1v34h-1zM971,448h1v10h-1zM988,424h1v2h-1zM1000,397h1v32h-1zM1014,389h1v10h-1zM1020,382h1v10h-1zM1025,377h1v5h-1zM1028,383h1v7h-1zM1031,391h1v13h-1zM1034,405h1v4h-1zM1040,411h1v42h-1zM1042,454h1v5h-1zM1048,443h1v5h-1zM1057,440h1v23h-1zM1059,464h1v7h-1zM1062,480h1v3h-1zM1071,445h1v5h-1zM1074,451h1v19h-1zM1082,465h1v3h-1zM1085,469h1v9h-1zM1088,479h1v29h-1zM1091,509h1v15h-1zM1096,520h1v1h-1zM1108,497h1v7h-1z" fill="#ff007f"/>
</g>
<path d="M1216.2,272L1232.4,272L1131.5,415.5Z" fill="#3a93f4"/>
<rect x="1069.2" y="181" width="310.4" height="92.2" rx="8" ry="8" fill="#3a93f4"/>
<g fill="#fff" font-size="23.4" stroke="#fff" stroke-width="0.6">
<text x="1078.1" y="209.7" textLength="98.5" lengthAdjust="spacingAndGlyphs">Potential</text>
<text x="1182.7" y="209.7" textLength="133.6" lengthAdjust="spacingAndGlyphs">mid-channel</text>
<text x="1078.8" y="233.8" textLength="109.6" lengthAdjust="spacingAndGlyphs">resistance</text>
<text x="1195.0" y="233.8" textLength="48.2" lengthAdjust="spacingAndGlyphs">near</text>
<text x="1250.6" y="233.8" textLength="36.2" lengthAdjust="spacingAndGlyphs">the</text>
<text x="1080.4" y="257.9" textLength="37.4" lengthAdjust="spacingAndGlyphs">100</text>
<text x="1124.1" y="257.9" textLength="43.4" lengthAdjust="spacingAndGlyphs">SMA</text>
<text x="1173.7" y="257.9" textLength="39.5" lengthAdjust="spacingAndGlyphs">and</text>
<text x="1219.9" y="257.9" textLength="24.6" lengthAdjust="spacingAndGlyphs">R1</text>
<text x="1253.1" y="257.9" textLength="54.1" lengthAdjust="spacingAndGlyphs">Pivot</text>
<text x="1313.9" y="257.9" textLength="56.0" lengthAdjust="spacingAndGlyphs">Point</text>
</g>
</g>
<g font-size="27" fill="#000" stroke="#000" stroke-width="0.25"><text x="27.8" y="52.8" textLength="121.6" lengthAdjust="spacingAndGlyphs">USD/CHF:</text><text x="160" y="52.8" textLength="81.5" lengthAdjust="spacingAndGlyphs">4-hour</text></g>
<text x="1869.4" y="23.9" font-size="14.3" fill="#131722" stroke="#131722" stroke-width="0.15" textLength="50" lengthAdjust="spacingAndGlyphs">0.93500</text>
<text x="1869.4" y="83.0" font-size="14.3" fill="#131722" stroke="#131722" stroke-width="0.15" textLength="50" lengthAdjust="spacingAndGlyphs">0.93000</text>
<text x="1869.4" y="142.2" font-size="14.3" fill="#131722" stroke="#131722" stroke-width="0.15" textLength="50" lengthAdjust="spacingAndGlyphs">0.92500</text>
<text x="1869.4" y="201.3" font-size="14.3" fill="#131722" stroke="#131722" stroke-width="0.15" textLength="50" lengthAdjust="spacingAndGlyphs">0.92000</text>
<text x="1869.4" y="260.4" font-size="14.3" fill="#131722" stroke="#131722" stroke-width="0.15" textLength="50" lengthAdjust="spacingAndGlyphs">0.91500</text>
<text x="1869.4" y="319.5" font-size="14.3" fill="#131722" stroke="#131722" stroke-width="0.15" textLength="50" lengthAdjust="spacingAndGlyphs">0.91000</text>
<text x="1869.4" y="378.6" font-size="14.3" fill="#131722" stroke="#131722" stroke-width="0.15" textLength="50" lengthAdjust="spacingAndGlyphs">0.90500</text>
<text x="1869.4" y="437.8" font-size="14.3" fill="#131722" stroke="#131722" stroke-width="0.15" textLength="50" lengthAdjust="spacingAndGlyphs">0.90000</text>
<text x="1869.4" y="496.9" font-size="14.3" fill="#131722" stroke="#131722" stroke-width="0.15" textLength="50" lengthAdjust="spacingAndGlyphs">0.89500</text>
<text x="1869.4" y="556.0" font-size="14.3" fill="#131722" stroke="#131722" stroke-width="0.15" textLength="50" lengthAdjust="spacingAndGlyphs">0.89000</text>
<text x="1869.4" y="615.1" font-size="14.3" fill="#131722" stroke="#131722" stroke-width="0.15" textLength="50" lengthAdjust="spacingAndGlyphs">0.88500</text>
<text x="1869.4" y="674.3" font-size="14.3" fill="#131722" stroke="#131722" stroke-width="0.15" textLength="50" lengthAdjust="spacingAndGlyphs">0.88000</text>
<text x="1869.4" y="733.4" font-size="14.3" fill="#131722" stroke="#131722" stroke-width="0.15" textLength="50" lengthAdjust="spacingAndGlyphs">0.87500</text>
<text x="1869.4" y="792.5" font-size="14.3" fill="#131722" stroke="#131722" stroke-width="0.15" textLength="50" lengthAdjust="spacingAndGlyphs">0.87000</text>
<text x="1869.4" y="851.6" font-size="14.3" fill="#131722" stroke="#131722" stroke-width="0.15" textLength="50" lengthAdjust="spacingAndGlyphs">0.86500</text>
<text x="1869.4" y="910.8" font-size="14.3" fill="#131722" stroke="#131722" stroke-width="0.15" textLength="50" lengthAdjust="spacingAndGlyphs">0.86000</text>
<text x="1869.4" y="969.9" font-size="14.3" fill="#131722" stroke="#131722" stroke-width="0.15" textLength="50" lengthAdjust="spacingAndGlyphs">0.85500</text>
<rect x="1801" y="469" width="124" height="21" rx="2.5" ry="2.5" fill="#34c21e"/>
<rect x="1860" y="469" width="1" height="21" fill="#9fe08f" shape-rendering="crispEdges"/>
<text x="1805.6" y="484.9" font-size="14.3" fill="#fff" stroke="#fff" stroke-width="0.3" textLength="49.6" lengthAdjust="spacingAndGlyphs">USDCHF</text>
<text x="1869.4" y="484.9" font-size="14.3" fill="#fff" stroke="#fff" stroke-width="0.3" textLength="50" lengthAdjust="spacingAndGlyphs">0.89607</text>
<text x="78.3" y="1025" font-size="14" fill="#131722" stroke="#131722" stroke-width="0.15" text-anchor="middle">Dec</text>
<text x="151.9" y="1025" font-size="14" fill="#131722" stroke="#131722" stroke-width="0.15" text-anchor="middle">6</text>
<text x="220.5" y="1025" font-size="14" fill="#131722" stroke="#131722" stroke-width="0.15" text-anchor="middle">12</text>
<text x="288.7" y="1025" font-size="14" fill="#131722" stroke="#131722" stroke-width="0.15" text-anchor="middle">18</text>
<text x="356.9" y="1025" font-size="14" fill="#131722" stroke="#131722" stroke-width="0.15" text-anchor="middle">24</text>
<text x="433.8" y="1025" font-size="14.2" fill="#131722" stroke="#131722" stroke-width="0.15" text-anchor="middle" font-weight="bold">2025</text>
<text x="504.9" y="1025" font-size="14" fill="#131722" stroke="#131722" stroke-width="0.15" text-anchor="middle">8</text>
<text x="573.4" y="1025" font-size="14" fill="#131722" stroke="#131722" stroke-width="0.15" text-anchor="middle">14</text>
<text x="635.9" y="1025" font-size="14" fill="#131722" stroke="#131722" stroke-width="0.15" text-anchor="middle">19</text>
<text x="709.7" y="1025" font-size="14" fill="#131722" stroke="#131722" stroke-width="0.15" text-anchor="middle">24</text>
<text x="806.4" y="1025" font-size="14" fill="#131722" stroke="#131722" stroke-width="0.15" text-anchor="middle">Feb</text>
<text x="880.2" y="1025" font-size="14" fill="#131722" stroke="#131722" stroke-width="0.15" text-anchor="middle">7</text>
<text x="948.6" y="1025" font-size="14" fill="#131722" stroke="#131722" stroke-width="0.15" text-anchor="middle">13</text>
<text x="1016.7" y="1025" font-size="14" fill="#131722" stroke="#131722" stroke-width="0.15" text-anchor="middle">19</text>
<text x="1084.7" y="1025" font-size="14" fill="#131722" stroke="#131722" stroke-width="0.15" text-anchor="middle">25</text>
<text x="1147.3" y="1025" font-size="14" fill="#131722" stroke="#131722" stroke-width="0.15" text-anchor="middle">Mar</text>
<text x="1221.5" y="1025" font-size="14" fill="#131722" stroke="#131722" stroke-width="0.15" text-anchor="middle">7</text>
<text x="1289.9" y="1025" font-size="14" fill="#131722" stroke="#131722" stroke-width="0.15" text-anchor="middle">13</text>
<text x="1358.4" y="1025" font-size="14" fill="#131722" stroke="#131722" stroke-width="0.15" text-anchor="middle">19</text>
<text x="1426.2" y="1025" font-size="14" fill="#131722" stroke="#131722" stroke-width="0.15" text-anchor="middle">25</text>
<text x="1511.4" y="1025" font-size="14" fill="#131722" stroke="#131722" stroke-width="0.15" text-anchor="middle">Apr</text>
<text x="1573.8" y="1025" font-size="14" fill="#131722" stroke="#131722" stroke-width="0.15" text-anchor="middle">6</text>
<text x="1647.8" y="1025" font-size="14" fill="#131722" stroke="#131722" stroke-width="0.15" text-anchor="middle">11</text>
<text x="1716.4" y="1025" font-size="14" fill="#131722" stroke="#131722" stroke-width="0.15" text-anchor="middle">17</text>
<text x="1784.2" y="1025" font-size="14" fill="#131722" stroke="#131722" stroke-width="0.15" text-anchor="middle">23</text>
<g transform="translate(10,1046.9) scale(0.56,0.54)" fill="#131722"><path d="M14 22H7V11H0V4h14v18zM28 22h-8l7.5-18h8L28 22z"/><circle cx="20" cy="8" r="4"/></g>
<text x="33" y="1058.7" font-size="12.6" fill="#131722" textLength="70" lengthAdjust="spacingAndGlyphs">TradingView</text>
</svg></body></html>
